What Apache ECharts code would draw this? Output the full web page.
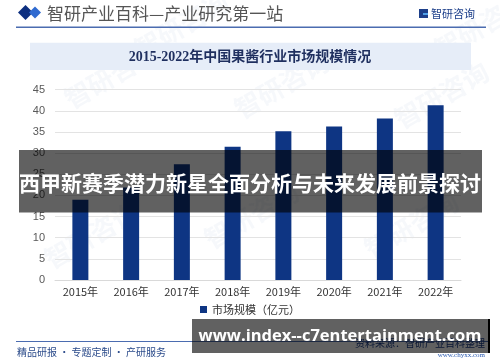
<!DOCTYPE html>
<html><head><meta charset="utf-8">
<script src="https://cdn.jsdelivr.net/npm/echarts@6/dist/echarts.min.js"></script>
<style>html,body{margin:0;padding:0;background:#fff}#c{width:500px;height:362px}</style>
</head><body><div id="c"></div>
<script>
const categories = ['2015年','2016年','2017年','2018年','2019年','2020年','2021年','2022年'];
const marketSize = [19.0, 21.9, 27.4, 31.5, 35.2, 36.3, 38.2, 41.3];
const seriesName = '市场规模（亿元）';
const chartTitle = '2015-2022年中国果酱行业市场规模情况';
const headerText = '智研产业百科—产业研究第一站';
const brandText = '智研咨询';
const bannerText = '西甲新赛季潜力新星全面分析与未来发展前景探讨';
const urlText = 'www.index--c7entertainment.com';
const footerLeft = '精品研报 · 专题定制 · 产研服务';
const footerSource = '资料来源：智研产业百科整理';
const footerSite = 'www.chyxx.com';

const cjk = "'Noto Sans CJK SC', 'Noto Sans', sans-serif";
const chart = echarts.init(document.getElementById('c'), null, {renderer:'canvas'});

function wm(x, y) {
  return {type:'text', x:x, y:y, rotation: Math.PI/6, z:0, silent:true,
    style:{text:'智研咨询', fill:'rgba(90,130,190,0.055)', font:'bold 26px ' + cjk}};
}

chart.setOption({
  animation:false,
  grid:{left:55, right:39, top:89.7, bottom:82, containLabel:false},
  legend:{show:true, bottom:42, left:'center', itemWidth:7, itemHeight:7, icon:'rect',
    textStyle:{fontSize:11, color:'#333', fontFamily:cjk}, itemGap:4, data:[seriesName]},
  xAxis:{type:'category', data:categories,
    axisLine:{lineStyle:{color:'#d9d9d9'}}, axisTick:{show:false},
    axisLabel:{color:'#333', fontSize:11, fontFamily:cjk, margin:6}},
  yAxis:{type:'value', min:0, max:45, interval:5,
    axisLine:{show:false}, axisTick:{show:false},
    splitLine:{lineStyle:{color:'#e3e3e3', width:1}},
    axisLabel:{color:'#595959', fontSize:11, fontFamily:"'Liberation Sans', sans-serif", margin:10}},
  series:[{name:seriesName, type:'bar', data:marketSize, barWidth:16,
    itemStyle:{color:'#0e3583'}, z:2}],
  graphic:[
    wm(60,90), wm(230,100), wm(390,110), wm(40,250), wm(200,230), wm(360,240), wm(430,40), wm(130,40),
    {type:'polygon', z:5, shape:{points:[[18,12.5],[25.5,5],[33,12.5],[25.5,20]]}, style:{fill:'#0d2f80'}},
    {type:'polygon', z:5, shape:{points:[[29,12.5],[35,6.5],[41,12.5],[35,18.5]]}, style:{fill:'#2f6ad0'}},
    {type:'text', z:5, x:47, y:14, style:{text:headerText, fill:'#555', font:'17px ' + cjk, textVerticalAlign:'middle'}},
    {type:'rect', z:5, shape:{x:419, y:9, width:9, height:9}, style:{fill:'#1d3f8a'}},
    {type:'rect', z:6, shape:{x:423, y:13, width:5, height:2}, style:{fill:'#4fa0e8'}},
    {type:'text', z:5, x:431, y:14, style:{text:brandText, fill:'#1d3f8a', font:'11px ' + cjk, textVerticalAlign:'middle'}},
    {type:'line', z:5, shape:{x1:16, y1:27.3, x2:486, y2:27.3}, style:{stroke:'#4b6cb0', lineWidth:1.5}},
    {type:'rect', z:1, shape:{x:30, y:42.7, width:441, height:27.3}, style:{fill:'#e6edf8'}},
    {type:'text', z:5, x:250, y:57, style:{text:chartTitle, fill:'#1f2f5f', font:"bold 14px 'Liberation Serif', " + cjk, textAlign:'center', textVerticalAlign:'middle'}},
    {type:'line', z:5, shape:{x1:16, y1:341.5, x2:490, y2:341.5}, style:{stroke:'#4b6cb0', lineWidth:1}},
    {type:'text', z:5, x:17, y:352.5, style:{text:footerLeft, fill:'#2a4a8a', font:'10px ' + cjk, textVerticalAlign:'middle'}},
    {type:'text', z:5, x:485, y:343, style:{text:footerSource, fill:'#1d3f8a', font:'10px ' + cjk, textAlign:'right', textVerticalAlign:'middle'}},
    {type:'text', z:5, x:485, y:355.5, style:{text:footerSite, fill:'#2a5ab0', font:"7px 'Liberation Serif', serif", textAlign:'right', textVerticalAlign:'middle'}},
    {type:'rect', z:100, shape:{x:19, y:150, width:463, height:62.5}, style:{fill:'rgba(0,0,0,0.62)'}},
    {type:'text', z:101, x:250, y:183.5, style:{text:bannerText, fill:'#fff', font:'bold 21px ' + cjk, textAlign:'center', textVerticalAlign:'middle'}},
    {type:'rect', z:100, shape:{x:192, y:319, width:297, height:34}, style:{fill:'rgba(0,0,0,0.62)'}},
    {type:'rect', z:101, shape:{x:488, y:319, width:2, height:34}, style:{fill:'#000'}},
    {type:'text', z:101, x:340, y:336.5, style:{text:urlText, fill:'#fff', font:"bold 16.5px 'Open Sans', sans-serif", textAlign:'center', textVerticalAlign:'middle'}}
  ]
});
</script></body></html>
